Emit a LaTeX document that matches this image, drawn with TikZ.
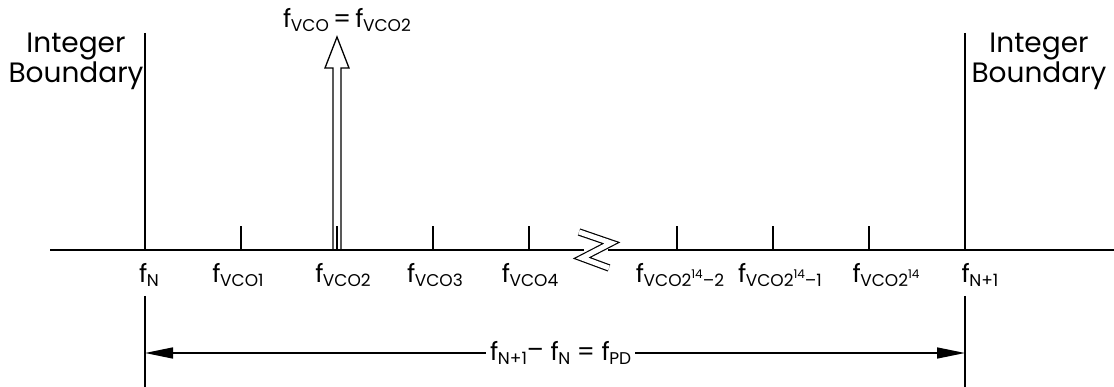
\documentclass[tikz,border=0pt]{standalone}
\usepackage{fontspec}
\setmainfont{Poppins}
\usetikzlibrary{arrows.meta}
\newcommand{\fsub}[1]{f\kern-0.5pt\raisebox{-4pt}{\fontsize{17}{17}\selectfont #1}}
\newcommand{\supx}[1]{\raisebox{8pt}{\fontsize{12}{12}\selectfont #1}}
\begin{document}
\begin{tikzpicture}[x=1pt,y=-1pt,line width=1.5pt,
  lbl/.style={font=\fontsize{25}{25}\selectfont, inner sep=0pt, anchor=base},
  bnd/.style={font=\fontsize{28}{30}\selectfont, align=center, inner sep=0pt, anchor=base},
  dimarrow/.style={{Triangle[length=28pt,width=11pt]}-{Triangle[length=28pt,width=11pt]}}]
\useasboundingbox (0,0) rectangle (1114,387);
% coordinates
\coordinate (axL) at (50,250);
\coordinate (axB1) at (584,250);
\coordinate (axB2) at (608,250);
\coordinate (axR) at (1114,250);
\coordinate (bLt) at (145,33);
\coordinate (bLa) at (145,250);
\coordinate (bLb) at (145,296);
\coordinate (bLe) at (145,387);
\coordinate (bRt) at (965,33);
\coordinate (bRa) at (965,250);
\coordinate (bRb) at (965,296);
\coordinate (bRe) at (965,387);
\coordinate (dL) at (145,353);
\coordinate (dR) at (965,353);
% axis
\draw[line width=1.6pt] (axL) -- (axB1);
\draw[line width=1.6pt] (axB2) -- (axR);
% break symbol
\draw[line width=1.2pt, double distance=5pt, miter limit=20] (579,232) -- (611,243) -- (582,258) -- (609,268);
% boundaries
\draw (bLt) -- (bLa);
\draw (bLb) -- (bLe);
\draw (bRt) -- (bRa);
\draw (bRb) -- (bRe);
% ticks
\foreach \x in {241,337,433,529,677,773,869}
  \draw (\x,250) -- (\x,226);
% hollow arrow
\draw[line width=1.3pt, line join=miter] (333,250) -- (333,68) -- (325,68) -- (337,37) -- (349,68) -- (341,68) -- (341,250);
% boundary labels
\node[bnd] (intL) at (76,83) {Integer\\Boundary};
\node[bnd] (intR) at (1039,83) {Integer\\Boundary};
% top label
\node[lbl] (ftop) at (347,28) {\fsub{VCO}\,=\,\fsub{VCO2}};
% axis labels
\node[lbl] (lN) at (149,283) {\fsub{N}};
\node[lbl] (l1) at (238,283) {\fsub{VCO1}};
\node[lbl] (l2) at (343,283) {\fsub{VCO2}};
\node[lbl] (l3) at (435,283) {\fsub{VCO3}};
\node[lbl] (l4) at (530,283) {\fsub{VCO4}};
\node[lbl] (l5) at (680,283) {\fsub{VCO2\supx{14}–2}};
\node[lbl] (l6) at (780,283) {\fsub{VCO2\supx{14}–1}};
\node[lbl] (l7) at (886,283) {\fsub{VCO2\supx{14}}};
\node[lbl] (lN1) at (980,283) {\fsub{N+1}};
% dimension
\draw[dimarrow] (dL) -- (dR) node[pos=0.507, fill=white, inner xsep=4pt, inner ysep=6pt, font=\fontsize{25}{25}\selectfont] (dim) {\fsub{N+1}\raisebox{2pt}{–}\ \fsub{N}\ =\ \fsub{PD}};
\end{tikzpicture}
\end{document}
